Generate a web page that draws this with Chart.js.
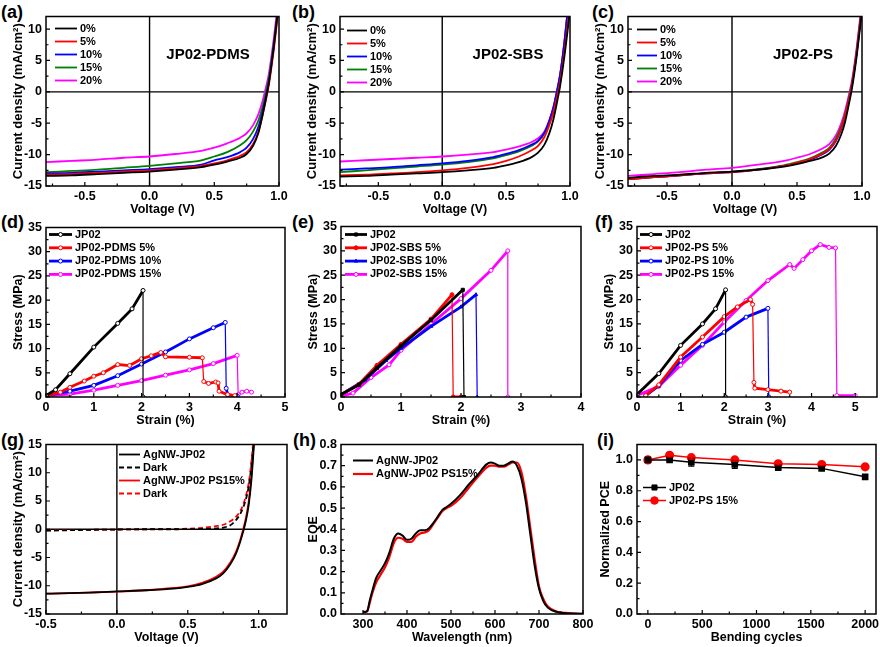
<!DOCTYPE html>
<html>
<head>
<meta charset="utf-8">
<script src="https://cdn.jsdelivr.net/npm/chart.js@4.4.1/dist/chart.umd.min.js"></script>
<style>
  body { margin: 0; background: #fff; width: 880px; height: 647px; position: relative; overflow: hidden;
         font-family: "Liberation Sans", Arial, sans-serif; }
  canvas { position: absolute; }
  .tag { position: absolute; font-weight: bold; font-size: 18px; line-height: 20px; }
</style>
</head>
<body>
<div class="tag" style="left:1px;top:2px">(a)</div>
<div class="tag" style="left:292px;top:2px">(b)</div>
<div class="tag" style="left:592px;top:2px">(c)</div>
<div class="tag" style="left:1px;top:212px">(d)</div>
<div class="tag" style="left:292px;top:212px">(e)</div>
<div class="tag" style="left:595px;top:212px">(f)</div>
<div class="tag" style="left:1px;top:430px">(g)</div>
<div class="tag" style="left:293px;top:430px">(h)</div>
<div class="tag" style="left:597px;top:430px">(i)</div>
<canvas id="ca"></canvas><canvas id="cb"></canvas><canvas id="cc"></canvas>
<canvas id="cd"></canvas><canvas id="ce"></canvas><canvas id="cf"></canvas>
<canvas id="cg"></canvas><canvas id="ch"></canvas><canvas id="ci"></canvas>
<script>
// ---- J-V curves (a)-(c) ----
const jvVoltage = [-0.8, -0.6, -0.4, -0.2, 0, 0.2, 0.4, 0.5, 0.6, 0.7, 0.75, 0.8, 0.84, 0.87, 0.9, 0.92, 0.94, 0.96, 0.98, 1.0];
const blendLabels = ['0%', '5%', '10%', '15%', '20%'];
const jvVTicks = [-0.5, 0, 0.5, 1.0];
const jvJTicks = [-15, -10, -5, 0, 5, 10];

const pdms0 = [-13.4, -13.3, -13.1, -12.9, -12.7, -12.4, -12.0, -11.6, -11.1, -10.5, -9.9, -8.6, -6.6, -4.0, -1.0, 1.2, 4.0, 7.2, 10.8, 14.5];
const pdms5 = [-13.2, -13.1, -12.9, -12.7, -12.5, -12.2, -11.8, -11.4, -10.9, -10.2, -9.6, -8.3, -6.4, -4.0, -1.2, 0.9, 3.6, 6.7, 10.2, 14];
const pdms10 = [-13.0, -12.9, -12.7, -12.5, -12.3, -12.0, -11.6, -10.9, -10.4, -9.6, -8.9, -7.5, -5.6, -3.4, -0.6, 1.4, 4.2, 7.4, 10.9, 14.5];
const pdms15 = [-12.8, -12.6, -12.4, -12.1, -11.8, -11.4, -10.9, -10.3, -9.6, -8.5, -7.7, -6.3, -4.6, -2.6, 0.0, 2.0, 4.7, 7.8, 11.3, 15];
const pdms20 = [-11.2, -11.0, -10.8, -10.5, -10.3, -9.9, -9.4, -8.9, -8.2, -7.3, -6.6, -5.3, -3.6, -1.7, 0.8, 2.7, 5.4, 8.5, 12.0, 15.5];

const sbs0 = [-13.5, -13.4, -13.2, -13.0, -12.8, -12.5, -12.1, -11.7, -11.2, -10.4, -9.7, -8.4, -6.5, -4.4, -1.5, 0.6, 3.2, 6.2, 9.5, 13];
const sbs5 = [-13.3, -13.2, -13.0, -12.8, -12.5, -12.1, -11.5, -11.0, -10.3, -9.3, -8.6, -7.2, -5.2, -3.3, -0.6, 1.4, 4.0, 7.0, 10.5, 14];
const sbs10 = [-12.4, -12.2, -12.0, -11.7, -11.4, -11.0, -10.4, -9.9, -9.3, -8.4, -7.8, -6.5, -4.5, -2.5, 0.3, 2.4, 5.2, 8.6, 12.5, 16];
const sbs15 = [-12.8, -12.5, -12.2, -11.9, -11.6, -11.2, -10.6, -10.1, -9.5, -8.6, -7.9, -6.6, -4.6, -2.6, 0.2, 2.3, 5.1, 8.5, 12.4, 16];
const sbs20 = [-11.1, -10.9, -10.7, -10.5, -10.3, -10.0, -9.6, -9.2, -8.7, -8.0, -7.4, -6.3, -4.4, -2.4, 0.4, 2.5, 5.3, 8.8, 12.7, 16];

const ps0 = [-13.7, -13.4, -13.2, -12.9, -12.7, -12.4, -11.9, -11.5, -11.0, -10.4, -9.8, -8.6, -6.8, -4.8, -1.9, 0.2, 2.8, 5.8, 9.3, 13];
const ps5 = [-13.9, -13.6, -13.3, -13.0, -12.8, -12.4, -11.8, -11.3, -10.7, -9.8, -9.1, -7.7, -5.8, -3.8, -1.1, 0.8, 3.4, 6.4, 9.9, 13.5];
const ps10 = [-13.9, -13.6, -13.3, -13.0, -12.8, -12.4, -11.8, -11.4, -10.8, -9.9, -9.2, -7.8, -5.9, -3.9, -1.2, 0.7, 3.3, 6.3, 9.8, 13.5];
const ps15 = [-13.9, -13.6, -13.3, -13.0, -12.7, -12.3, -11.7, -11.2, -10.6, -9.6, -8.9, -7.4, -5.5, -3.5, -0.8, 1.1, 3.7, 6.8, 10.3, 14];
const ps20 = [-13.4, -13.1, -12.8, -12.4, -12.1, -11.6, -11.0, -10.5, -9.9, -9.0, -8.3, -6.9, -5.0, -3.0, -0.4, 1.5, 4.1, 7.2, 10.8, 14.5];

// ---- stress-strain (d)-(f) ----
const stressTicks = [0, 5, 10, 15, 20, 25, 30, 35];
const dStrainJP02 = [0, 0.2, 0.5, 1.0, 1.5, 1.8, 2.03, 2.03];
const dStressJP02 = [0.3, 1.5, 4.8, 10.3, 15.2, 18.2, 22, 0];
const dStrainPDMS5 = [0, 0.3, 0.5, 0.8, 1.0, 1.2, 1.5, 1.75, 2.0, 2.2, 2.4, 2.5, 3.0, 3.27, 3.3, 3.4, 3.55, 3.6, 3.62, 3.8, 3.95];
const dStressPDMS5 = [0.3, 1.0, 2.0, 3.3, 4.3, 5.0, 6.7, 6.5, 7.9, 8.5, 9.2, 8.3, 8.2, 8.1, 3.2, 2.8, 3.1, 2.9, 1.2, 0.5, 0.3];
const dStrainPDMS10 = [0, 0.5, 1.0, 1.5, 2.0, 2.5, 3.0, 3.5, 3.75, 3.77, 3.8, 4.0];
const dStressPDMS10 = [0.3, 1.2, 2.4, 4.4, 6.8, 9.3, 12.0, 14.3, 15.4, 1.8, 0.5, 0.2];
const dStrainPDMS15 = [0, 0.5, 1.0, 1.5, 2.0, 2.5, 3.0, 3.5, 4.0, 4.02, 4.1, 4.2, 4.3];
const dStressPDMS15 = [0.3, 0.6, 1.4, 2.4, 3.4, 4.5, 5.6, 6.9, 8.6, 0.5, 1.0, 1.2, 1.0];

const eStrainJP02 = [0, 0.3, 0.6, 1.0, 1.5, 2.03, 2.05];
const eStressJP02 = [0.5, 2.5, 6.0, 10.5, 15.8, 22, 0];
const eStrainSBS5 = [0, 0.3, 0.6, 1.0, 1.5, 1.85, 1.87, 2.0];
const eStressSBS5 = [0.5, 2.6, 6.5, 10.8, 16.0, 21.0, 0, 0];
const eStrainSBS10 = [0, 0.4, 0.75, 1.0, 1.5, 2.0, 2.25, 2.27];
const eStressSBS10 = [0.5, 3.5, 7.5, 10.0, 14.5, 18.5, 21.0, 0];
const eStrainSBS15 = [0, 0.2, 0.5, 0.8, 1.0, 1.5, 2.0, 2.5, 2.78, 2.78];
const eStressSBS15 = [0.2, 0.8, 4.0, 6.6, 9.6, 15.0, 20.2, 26.0, 30.0, 0];

const fStrainJP02 = [0, 0.5, 1.0, 1.5, 1.8, 2.03, 2.03];
const fStressJP02 = [0.5, 4.8, 10.6, 15.0, 18.1, 22, 0];
const fStrainPS5 = [0.2, 0.5, 1.0, 1.5, 2.0, 2.3, 2.6, 2.65, 2.68, 2.7, 3.0, 3.3, 3.5];
const fStressPS5 = [0.3, 2.5, 8.2, 12.3, 16.5, 18.5, 20.0, 19.0, 3.0, 1.8, 1.5, 1.2, 1.0];
const fStrainPS10 = [0.2, 0.5, 1.0, 1.5, 2.0, 2.5, 3.0, 3.02];
const fStressPS10 = [0.3, 2.3, 7.5, 10.8, 13.3, 16.4, 18.2, 0];
const fStrainPS15 = [0, 0.5, 1.0, 1.5, 2.0, 2.5, 3.0, 3.5, 3.6, 3.8, 4.0, 4.2, 4.4, 4.55, 4.58, 5.0];
const fStressPS15 = [0.3, 2.2, 6.5, 10.6, 15.4, 19.8, 23.9, 27.2, 26.4, 28.2, 30.0, 31.3, 30.7, 30.6, 0.3, 0.3];

// ---- (g) light / dark J-V ----
const gVoltage = [-0.5, -0.4, -0.2, 0, 0.2, 0.4, 0.5, 0.6, 0.7, 0.75, 0.8, 0.84, 0.87, 0.89, 0.91, 0.93, 0.95, 0.97];
const gJP02Light = [-11.4, -11.35, -11.2, -11.0, -10.8, -10.5, -10.2, -9.7, -8.7, -7.8, -6.2, -4.3, -2.2, -0.5, 1.5, 4.3, 9.0, 16];
const gJP02Dark = [-0.25, -0.2, -0.1, -0.05, 0, 0, 0.02, 0.05, 0.15, 0.3, 0.7, 1.6, 2.7, 3.8, 5.3, 7.6, 11.5, 17];
const gPS15Light = [-11.4, -11.35, -11.2, -11.05, -10.8, -10.4, -10.1, -9.5, -8.4, -7.5, -5.9, -4.0, -1.9, -0.1, 2.0, 5.0, 10.0, 17];
const gPS15Dark = [-0.2, -0.15, -0.1, -0.05, 0, 0.05, 0.1, 0.25, 0.55, 0.8, 1.4, 2.2, 3.2, 4.3, 5.9, 8.2, 12.3, 18];
const gJTicks = [-15, -10, -5, 0, 5, 10, 15];

// ---- (h) EQE ----
const wavelength = [300, 305, 310, 315, 320, 330, 340, 350, 360, 370, 380, 390, 400, 410, 420, 430, 440, 450, 460, 470, 480, 490, 500, 520, 540, 560, 580, 590, 600, 610, 620, 630, 640, 650, 660, 670, 680, 690, 700, 710, 720, 740, 760, 780, 800];
const eqeJP02 = [0.01, 0.01, 0.015, 0.06, 0.1, 0.17, 0.205, 0.24, 0.29, 0.355, 0.38, 0.37, 0.35, 0.355, 0.38, 0.395, 0.395, 0.405, 0.43, 0.46, 0.49, 0.505, 0.52, 0.56, 0.61, 0.655, 0.705, 0.715, 0.71, 0.70, 0.70, 0.71, 0.72, 0.70, 0.64, 0.53, 0.38, 0.23, 0.12, 0.06, 0.03, 0.01, 0.004, 0.002, 0.001];
const eqePS15 = [0.01, 0.01, 0.015, 0.05, 0.09, 0.15, 0.185, 0.22, 0.27, 0.335, 0.36, 0.355, 0.34, 0.34, 0.365, 0.38, 0.385, 0.395, 0.425, 0.455, 0.485, 0.5, 0.51, 0.545, 0.595, 0.645, 0.69, 0.70, 0.70, 0.695, 0.695, 0.705, 0.715, 0.715, 0.67, 0.56, 0.41, 0.26, 0.13, 0.07, 0.035, 0.012, 0.005, 0.002, 0.001];

// ---- (i) bending ----
const bendCycles = [0, 200, 400, 800, 1200, 1600, 2000];
const pceJP02 = [1.0, 1.0, 0.985, 0.97, 0.95, 0.945, 0.89];
const pceJP02Err = [0, 0.01, 0.025, 0.025, 0.012, 0.012, 0.01];
const pcePS15 = [1.0, 1.03, 1.015, 1.0, 0.975, 0.97, 0.955];
const pcePS15Err = [0, 0.01, 0.01, 0.008, 0.008, 0.008, 0.005];

const FONT = '"Liberation Sans", Arial, sans-serif';
Chart.defaults.font.family = FONT;
Chart.defaults.font.weight = 'bold';
Chart.defaults.font.size = 12.5;
Chart.defaults.color = '#000';

const BLACK = '#000000', RED = '#ff0000', BLUE = '#0000ff', GREEN = '#008000', MAGENTA = '#ff00ff';

function tickMarks(ctx, s, a, horiz) {
  const vals = s.ticks.map(t => t.value);
  const step = vals[1] - vals[0];
  const marks = vals.map(v => [v, 4]);
  [vals[0] - step / 2, ...vals.map(v => v + step / 2)].forEach(v => {
    if (v > s.min && v < s.max) marks.push([v, 2.5]);
  });
  ctx.beginPath();
  marks.forEach(([v, len]) => {
    const p = s.getPixelForValue(v);
    if (horiz) { ctx.moveTo(p, a.bottom); ctx.lineTo(p, a.bottom - len); }
    else { ctx.moveTo(a.left, p); ctx.lineTo(a.left + len, p); }
  });
  ctx.stroke();
}

// box, inward ticks, zero lines, error bars
const framePlugin = {
  id: 'frame',
  beforeDatasetsDraw(chart, args, o) {
    if (!o.zero) return;
    const { ctx, chartArea: a, scales: { x, y } } = chart;
    const x0 = x.getPixelForValue(0), y0 = y.getPixelForValue(0);
    ctx.save();
    ctx.strokeStyle = '#000';
    ctx.lineWidth = 1.4;
    ctx.beginPath();
    ctx.moveTo(a.left, y0); ctx.lineTo(a.right, y0);
    ctx.moveTo(x0, a.top); ctx.lineTo(x0, a.bottom);
    ctx.stroke();
    ctx.restore();
  },
  afterDatasetsDraw(chart) {
    const { ctx, chartArea: a, scales: { x, y } } = chart;
    ctx.save();
    chart.data.datasets.forEach((ds, i) => {
      if (!ds.errors) return;
      const meta = chart.getDatasetMeta(i);
      ctx.strokeStyle = ds.borderColor;
      ctx.lineWidth = 1.2;
      ds.data.forEach((p, j) => {
        const e = ds.errors[j];
        if (!e) return;
        const px = meta.data[j].x;
        const yt = y.getPixelForValue(p.y + e), yb = y.getPixelForValue(p.y - e);
        ctx.beginPath();
        ctx.moveTo(px, yt); ctx.lineTo(px, yb);
        ctx.moveTo(px - 3, yt); ctx.lineTo(px + 3, yt);
        ctx.moveTo(px - 3, yb); ctx.lineTo(px + 3, yb);
        ctx.stroke();
      });
    });
    ctx.strokeStyle = '#000';
    ctx.lineWidth = 1.5;
    ctx.strokeRect(a.left, a.top, a.right - a.left, a.bottom - a.top);
    ctx.lineWidth = 1.2;
    tickMarks(ctx, x, a, true);
    tickMarks(ctx, y, a, false);
    ctx.restore();
  }
};

// legend drawn inside the plot, Origin style
const boxLegend = {
  id: 'boxLegend',
  afterDraw(chart, args, o) {
    if (o.x === undefined) return;
    const { ctx, chartArea: a } = chart;
    ctx.save();
    ctx.font = 'bold 11px ' + FONT;
    ctx.textBaseline = 'middle';
    chart.data.datasets.forEach((ds, i) => {
      const y = a.top + o.y + i * o.gap;
      const x0 = a.left + o.x, x1 = x0 + o.len;
      ctx.strokeStyle = ds.borderColor;
      ctx.lineWidth = ds.borderWidth;
      ctx.setLineDash(ds.borderDash || []);
      ctx.beginPath(); ctx.moveTo(x0, y); ctx.lineTo(x1, y); ctx.stroke();
      ctx.setLineDash([]);
      if (ds.pointRadius > 0) {
        ctx.fillStyle = ds.pointBackgroundColor || ds.borderColor;
        ctx.lineWidth = ds.pointBorderWidth || 1;
        Chart.helpers.drawPoint(ctx, { pointStyle: ds.pointStyle, radius: ds.pointRadius, borderWidth: ds.pointBorderWidth || 1, rotation: 0 }, (x0 + x1) / 2, y);
      }
      ctx.fillStyle = '#000';
      ctx.fillText(ds.label, x1 + 3, y);
    });
    ctx.restore();
  }
};

const notePlugin = {
  id: 'note',
  afterDraw(chart, args, o) {
    if (!o.text) return;
    const { ctx, chartArea: a } = chart;
    ctx.save();
    ctx.font = 'bold 15px ' + FONT;
    ctx.textAlign = 'center';
    ctx.textBaseline = 'middle';
    ctx.fillStyle = '#000';
    ctx.fillText(o.text, a.left + o.x, a.top + o.y);
    ctx.restore();
  }
};

const thinDrops = {
  borderWidth: c => (Math.abs(c.p1.parsed.x - c.p0.parsed.x) < 0.035 && Math.abs(c.p1.parsed.y - c.p0.parsed.y) > 3) ? 1.2 : undefined
};

function series(label, xs, ys, color, extra) {
  return Object.assign({
    label, data: xs.map((x, i) => ({ x, y: ys[i] })),
    borderColor: color, backgroundColor: color, borderWidth: 1.8,
    pointRadius: 0, tension: 0, fill: false, clip: 0
  }, extra || {});
}

function axis(a, horiz, yWidth) {
  return {
    type: 'linear', min: a.min, max: a.max,
    grid: { display: false, drawTicks: false },
    border: { display: false },
    ticks: {
      padding: horiz ? 3 : 4, maxRotation: 0, autoSkip: false,
      callback: v => a.fmt === undefined ? String(v) : v.toFixed(a.fmt)
    },
    afterBuildTicks: s => { s.ticks = a.ticks.map(v => ({ value: v })); },
    afterFit: s => { if (horiz) s.height = 32; else s.width = yWidth; },
    title: {
      display: true, text: a.title, font: { size: a.titleSize || 12.5 },
      padding: horiz ? { top: 0, bottom: 1 } : { top: 1, bottom: 0 }
    }
  };
}

function build(id, box, spec) {
  const cv = document.getElementById(id);
  const padL = spec.yWidth || 36, padT = 10, padR = 18, padB = 32;
  cv.width = box.r - box.l + padL + padR;
  cv.height = box.b - box.t + padT + padB;
  cv.style.left = (box.l - padL) + 'px';
  cv.style.top = (box.t - padT) + 'px';
  new Chart(cv, {
    type: 'line',
    data: { datasets: spec.datasets },
    options: {
      responsive: false, animation: false, events: [],
      layout: { padding: { left: 0, top: padT, right: padR, bottom: 0 } },
      plugins: {
        legend: { display: false }, tooltip: { enabled: false },
        frame: { zero: !!spec.zero }, boxLegend: spec.legend || {}, note: spec.note || {}
      },
      scales: { x: axis(spec.x, true), y: axis(spec.y, false, padL) }
    },
    plugins: [framePlugin, boxLegend, notePlugin]
  });
}

const jvColors = [BLACK, RED, BLUE, GREEN, MAGENTA];
function jvSets(rows) {
  return rows.map((r, i) => series(blendLabels[i], jvVoltage, r, jvColors[i], { cubicInterpolationMode: 'monotone' }));
}
const jvX = { min: -0.8, max: 1.0, ticks: jvVTicks, fmt: 1, title: 'Voltage (V)' };
const jvY = { min: -15, max: 12, ticks: jvJTicks, title: 'Current density (mA/cm\u00B2)', titleSize: 13 };

build('ca', { l: 46, t: 15, r: 279, b: 186 }, {
  zero: true, x: jvX, y: jvY,
  datasets: jvSets([pdms0, pdms5, pdms10, pdms15, pdms20]),
  legend: { x: 9, y: 12, gap: 13, len: 22 }, note: { text: 'JP02-PDMS', x: 162, y: 38 }
});
build('cb', { l: 340, t: 15, r: 570, b: 186 }, {
  zero: true, x: jvX, y: jvY,
  datasets: jvSets([sbs0, sbs5, sbs10, sbs15, sbs20]),
  legend: { x: 7, y: 14, gap: 13, len: 20 }, note: { text: 'JP02-SBS', x: 168, y: 38 }
});
build('cc', { l: 628, t: 15, r: 862, b: 186 }, {
  zero: true, x: jvX, y: jvY,
  datasets: jvSets([ps0, ps5, ps10, ps15, ps20]),
  legend: { x: 9, y: 13, gap: 13, len: 20 }, note: { text: 'JP02-PS', x: 175, y: 38 }
});

function ss(label, xs, ys, color, style, fillColor) {
  return series(label, xs, ys, color, {
    borderWidth: 2.8, segment: thinDrops,
    pointStyle: style, pointRadius: style === 'rect' ? 2.2 : 2, pointBorderWidth: 1,
    pointBackgroundColor: fillColor, pointBorderColor: color
  });
}
const stressY = { min: 0, max: 35, ticks: stressTicks, title: 'Stress (MPa)' };

build('cd', { l: 46, t: 226, r: 285, b: 397 }, {
  x: { min: 0, max: 5, ticks: [0, 1, 2, 3, 4, 5], title: 'Strain (%)' }, y: stressY,
  datasets: [
    ss('JP02', dStrainJP02, dStressJP02, BLACK, 'circle', '#fff'),
    ss('JP02-PDMS 5%', dStrainPDMS5, dStressPDMS5, RED, 'circle', '#fff'),
    ss('JP02-PDMS 10%', dStrainPDMS10, dStressPDMS10, BLUE, 'circle', '#fff'),
    ss('JP02-PDMS 15%', dStrainPDMS15, dStressPDMS15, MAGENTA, 'circle', '#fff')
  ],
  legend: { x: 3, y: 7, gap: 13.3, len: 23 }
});
build('ce', { l: 341, t: 225, r: 581, b: 397 }, {
  x: { min: 0, max: 4, ticks: [0, 1, 2, 3, 4], title: 'Strain (%)' }, y: stressY,
  datasets: [
    ss('JP02', eStrainJP02, eStressJP02, BLACK, 'rect', BLACK),
    ss('JP02-SBS 5%', eStrainSBS5, eStressSBS5, RED, 'circle', RED),
    ss('JP02-SBS 10%', eStrainSBS10, eStressSBS10, BLUE, 'triangle', BLUE),
    ss('JP02-SBS 15%', eStrainSBS15, eStressSBS15, MAGENTA, 'circle', '#fff')
  ],
  legend: { x: 4, y: 8, gap: 13.3, len: 22 }
});
build('cf', { l: 637, t: 225, r: 877, b: 397 }, {
  x: { min: 0, max: 5.5, ticks: [0, 1, 2, 3, 4, 5], title: 'Strain (%)' }, y: stressY,
  datasets: [
    ss('JP02', fStrainJP02, fStressJP02, BLACK, 'circle', '#fff'),
    ss('JP02-PS 5%', fStrainPS5, fStressPS5, RED, 'circle', '#fff'),
    ss('JP02-PS 10%', fStrainPS10, fStressPS10, BLUE, 'circle', '#fff'),
    ss('JP02-PS 15%', fStrainPS15, fStressPS15, MAGENTA, 'circle', '#fff')
  ],
  legend: { x: 3, y: 8, gap: 13.3, len: 22 }
});

build('cg', { l: 46, t: 443, r: 287, b: 614 }, {
  zero: true,
  x: { min: -0.5, max: 1.2, ticks: jvVTicks, fmt: 1, title: 'Voltage (V)' },
  y: { min: -15, max: 15, ticks: gJTicks, title: 'Current density (mA/cm\u00B2)', titleSize: 13 },
  datasets: [
    series('AgNW-JP02', gVoltage, gJP02Light, BLACK, { cubicInterpolationMode: 'monotone' }),
    series('Dark', gVoltage, gJP02Dark, BLACK, { cubicInterpolationMode: 'monotone', borderDash: [5, 3] }),
    series('AgNW-JP02 PS15%', gVoltage, gPS15Light, RED, { cubicInterpolationMode: 'monotone' }),
    series('Dark', gVoltage, gPS15Dark, RED, { cubicInterpolationMode: 'monotone', borderDash: [5, 3] })
  ],
  legend: { x: 73, y: 10, gap: 13, len: 21 }
});

build('ch', { l: 341, t: 443, r: 583, b: 614 }, {
  x: { min: 250, max: 800, ticks: [300, 400, 500, 600, 700, 800], title: 'Wavelength (nm)' },
  y: { min: 0, max: 0.8, ticks: [0, 0.1, 0.2, 0.3, 0.4, 0.5, 0.6, 0.7, 0.8], fmt: 1, title: 'EQE' },
  datasets: [
    series('AgNW-JP02', wavelength, eqeJP02, BLACK, { cubicInterpolationMode: 'monotone', borderWidth: 2 }),
    series('AgNW-JP02 PS15%', wavelength, eqePS15, RED, { cubicInterpolationMode: 'monotone', borderWidth: 2.2 })
  ],
  legend: { x: 12, y: 16, gap: 13.5, len: 20 }
});

build('ci', { l: 637, t: 443, r: 876, b: 614 }, {
  yWidth: 40,
  x: { min: -100, max: 2100, ticks: [0, 500, 1000, 1500, 2000], title: 'Bending cycles' },
  y: { min: 0, max: 1.1, ticks: [0, 0.2, 0.4, 0.6, 0.8, 1.0], fmt: 1, title: 'Normalized PCE' },
  datasets: [
    series('JP02', bendCycles, pceJP02, BLACK, { borderWidth: 1.5, pointStyle: 'rect', pointRadius: 3.6, pointBackgroundColor: BLACK, errors: pceJP02Err }),
    series('JP02-PS 15%', bendCycles, pcePS15, RED, { borderWidth: 1.5, pointStyle: 'circle', pointRadius: 3.8, pointBackgroundColor: RED, errors: pcePS15Err })
  ],
  legend: { x: 6, y: 43, gap: 13, len: 23 }
});
</script>
</body>
</html>
